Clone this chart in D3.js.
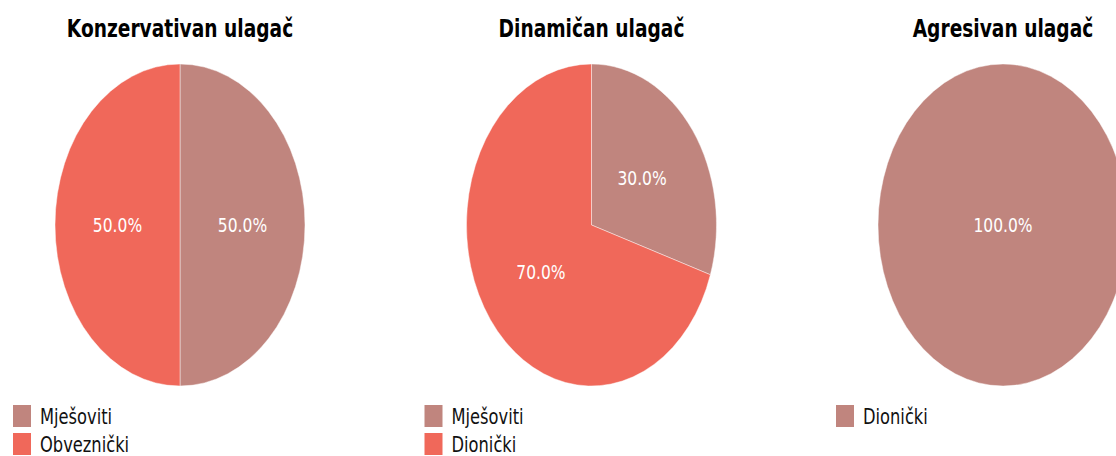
<!DOCTYPE html>
<html>
<head>
<meta charset="utf-8">
<script src="https://cdn.jsdelivr.net/npm/d3@7"></script>
<style>
  body { margin: 0; background: #fff; }
  text { font-family: "DejaVu Sans", sans-serif; }
</style>
</head>
<body>
<svg width="1116" height="456"></svg>
<script>
// data
const titles = ['Konzervativan ulagač', 'Dinamičan ulagač', 'Agresivan ulagač']
const categories = [
  ['Mješoviti', 'Obveznički'],
  ['Mješoviti', 'Dionički'],
  ['Dionički']
]
const values = [
  [50, 50],
  [30, 70],
  [100]
]

const colors = ['#c0857e', '#f0685a']

const svg = d3.select('svg')
const r = 161          // vertical radius
const sx = 125 / 161   // horizontal squash of the whole panel
const cy = 225
const panelX = d3.scalePoint()
  .domain(d3.range(3))
  .range([180, 1003])

const pie = d3.pie().sort(null).value(d => d)
const arc = d3.arc().innerRadius(0).outerRadius(r)
const labelArc = d3.arc().innerRadius(r * 0.5).outerRadius(r * 0.5)

titles.forEach((title, i) => {
  const g = svg.append('g')
    .attr('transform', `translate(${panelX(i)},0) scale(${sx},1)`)

  g.append('text')
    .attr('x', 0)
    .attr('y', 37)
    .attr('text-anchor', 'middle')
    .attr('font-size', 24)
    .attr('font-weight', 'bold')
    .attr('fill', '#000')
    .text(title)

  const pg = g.append('g').attr('transform', `translate(0,${cy})`)
  const arcs = pie(values[i])

  pg.selectAll('path')
    .data(arcs)
    .enter()
    .append('path')
    .attr('d', arc)
    .attr('fill', (d, j) => colors[j])
    .attr('stroke', '#fff')
    .attr('stroke-width', 0.5)

  const total = d3.sum(values[i])
  pg.selectAll('text')
    .data(arcs)
    .enter()
    .append('text')
    .attr('transform', d => values[i].length === 1 ? 'translate(0,0)' : `translate(${labelArc.centroid(d)})`)
    .attr('text-anchor', 'middle')
    .attr('dy', '0.35em')
    .attr('font-size', 20)
    .attr('fill', '#fff')
    .text(d => (d.value / total * 100).toFixed(1) + '%')

  // legend
  const lg = g.append('g').attr('transform', `translate(${-167 / sx},405)`)
  const items = lg.selectAll('g')
    .data(categories[i])
    .enter()
    .append('g')
    .attr('transform', (d, j) => `translate(0,${j * 28})`)
  items.append('rect')
    .attr('width', 18 / sx)
    .attr('height', 22)
    .attr('fill', (d, j) => colors[j])
  items.append('text')
    .attr('x', 27 / sx)
    .attr('y', 19)
    .attr('font-size', 21)
    .attr('fill', '#111')
    .text(d => d)
})
</script>
</body>
</html>
